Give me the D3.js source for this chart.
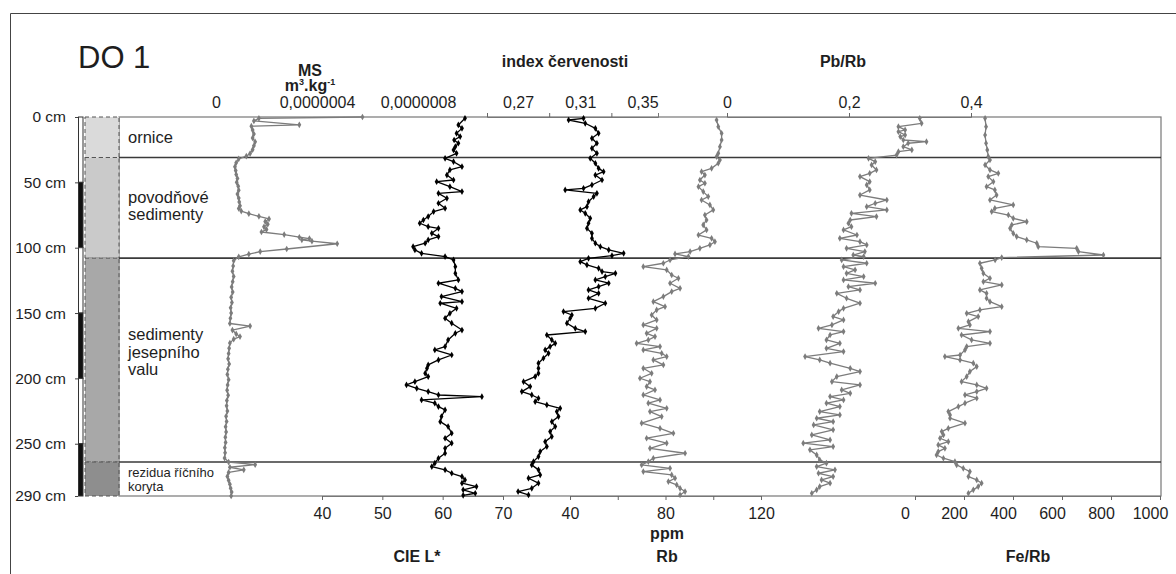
<!DOCTYPE html>
<html><head><meta charset="utf-8">
<script src="https://cdn.jsdelivr.net/npm/d3@7"></script>
<style>
body{margin:0;background:#fff}
svg{display:block}
text{font-family:"Liberation Sans",Arial,Helvetica,sans-serif;fill:#1e1e1e}
</style>
</head><body>
<svg id="c" width="1176" height="574"></svg>
<script>
// ---------------- DATA ----------------
const chartTitle = "DO 1";
const depthTicks = [0, 50, 100, 150, 200, 250, 290];
const depthBarBreaks = [0, 50, 100, 150, 200, 250, 290];

const layerNames = [["ornice"], ["povodňové", "sedimenty"], ["sedimenty", "jesepního", "valu"], ["rezidua říčního", "koryta"]];
const layerTops = [0, 31, 108, 264];
const layerBottoms = [31, 108, 264, 290];

// Magnetic susceptibility (m3/kg)
const msDepth = [0,1,3,6,7,10,13,16,19,22,25,28,30,32,35,38,41,44,47,50,53,56,59,62,65,68,70,72,74,76,78,80,82,84,86,88,90,92,93,94,95,97,101,103,105,107,110,114,118,122,126,130,134,138,142,146,150,154,158,160,163,166,168,170,173,177,181,185,189,193,197,201,205,209,213,217,221,225,229,233,237,241,245,249,253,257,261,264,266,268,270,272,275,278,281,284,287,290];
const msValue = [5.8e-7,1.7e-7,1.5e-7,3.3e-7,1.4e-7,1.45e-7,1.5e-7,1.45e-7,1.55e-7,1.5e-7,1.45e-7,1.35e-7,1.2e-7,0.9e-7,0.8e-7,0.75e-7,0.78e-7,0.8e-7,0.85e-7,0.82e-7,0.88e-7,0.9e-7,0.85e-7,0.9e-7,0.92e-7,0.95e-7,0.9e-7,1.0e-7,1.3e-7,1.7e-7,2.1e-7,1.95e-7,2.05e-7,1.9e-7,2.0e-7,1.8e-7,2.7e-7,3.3e-7,3.7e-7,3.4e-7,3.8e-7,4.8e-7,2.8e-7,1.75e-7,1.3e-7,0.9e-7,0.7e-7,0.68e-7,0.65e-7,0.7e-7,0.66e-7,0.62e-7,0.66e-7,0.6e-7,0.63e-7,0.58e-7,0.6e-7,0.57e-7,0.55e-7,1.35e-7,0.65e-7,0.8e-7,0.95e-7,0.7e-7,0.55e-7,0.52e-7,0.5e-7,0.48e-7,0.52e-7,0.47e-7,0.45e-7,0.5e-7,0.46e-7,0.44e-7,0.48e-7,0.43e-7,0.42e-7,0.45e-7,0.4e-7,0.42e-7,0.38e-7,0.4e-7,0.37e-7,0.38e-7,0.35e-7,0.36e-7,0.34e-7,0.5e-7,1.55e-7,0.55e-7,1.1e-7,0.5e-7,0.45e-7,0.5e-7,0.55e-7,0.58e-7,0.62e-7,0.6e-7];
const msTicks = [0, 4e-7, 8e-7];
const msTickLabels = ["0", "0,0000004", "0,0000008"];

// CIE L*
const lDepth = [1,6.1,8.7,12.5,15,17.6,20.1,22.7,25.2,27.8,31.6,34.2,38,40.5,44.4,48.2,49.5,53.3,57.1,58.4,62.2,66,69.9,72.4,76.2,78.8,81.3,83.9,85.2,89,91.5,94.1,96.6,99.2,101.7,104.3,106.8,109.4,114.5,119.6,124.7,127.2,131.1,133.6,137.4,141.3,142.5,146.4,150.2,154,157.8,163,165.5,170.6,175.7,178.2,182.1,185.9,189.7,192.3,196.1,198.6,202.5,205,207.6,210.1,212.7,214,216.5,219,221.6,224.1,229.2,233.1,236.9,242,245.8,249.6,253.5,257.3,261.1,264.9,267.5,270,272.6,275.1,277.7,280.2,282.8,285.3,287.9,289.5];
const lValue = [63.7,62.6,63.2,62.3,62.9,61.9,62.6,62.1,61.8,62.3,60.4,61.8,63.2,61.2,60.7,61.8,59.0,61.2,63.2,59.3,60.7,59.3,60.4,58.5,57.6,56.8,56.2,57.6,59.3,58.2,59.3,57.6,57.1,55.1,55.4,56.5,60.4,61.8,62.1,62.1,62.6,59.3,62.1,63.2,59.8,63.2,59.6,62.3,61.2,60.4,61.5,63.2,62.1,60.9,60.4,58.7,61.5,59.3,57.6,57.4,57.1,57.6,55.4,54.0,55.7,57.6,59.3,66.5,56.5,58.7,59.3,60.4,59.8,59.6,60.9,61.5,60.4,61.5,60.4,60.4,59.3,58.7,58.2,60.4,61.5,63.2,63.7,63.2,65.6,63.4,65.4,63.4];
const lTicks = [40, 50, 60, 70];

// index červenosti
const idxDepth = [1,2.3,4.8,8.7,12.5,16.3,20.1,24,27.8,31.6,35.4,39.3,41.8,44.4,48.2,52,54.6,55.8,58.4,60.9,64.8,68.6,71.1,73.7,77.5,81.3,85.2,89,92.8,96.6,99.2,101.7,104.3,106.1,108.1,110.7,113.2,115.8,118.3,119.6,122.1,124.7,127.2,129.8,132.3,134.9,138.7,142.5,146.4,148.9,151.5,154,157.8,161.7,164.2,166.8,170.6,173.2,175.7,178.2,180.8,184.6,188.4,192.3,196.1,198.6,202.5,206.3,210.1,212.7,215.2,217.8,220.3,222.9,225.4,229.2,233.1,236.9,240.7,244.5,248.4,252.2,256,259.8,263.7,266.2,270,273.9,276.4,280.2,284.1,286.6,289.2];
const idxValue = [0.3121,0.3025,0.3132,0.3197,0.3218,0.3175,0.3207,0.3175,0.3207,0.3164,0.3197,0.3218,0.3250,0.3197,0.3240,0.3175,0.3121,0.3003,0.3207,0.3186,0.3153,0.3143,0.3100,0.3132,0.3164,0.3153,0.3143,0.3175,0.3175,0.3197,0.3229,0.3283,0.3379,0.3304,0.3153,0.3100,0.3143,0.3218,0.3240,0.3326,0.3261,0.3197,0.3283,0.3218,0.3153,0.3218,0.3153,0.3261,0.3197,0.2992,0.3046,0.3035,0.3014,0.3068,0.3132,0.2885,0.2917,0.2939,0.2906,0.2874,0.2896,0.2863,0.2831,0.2831,0.2831,0.2810,0.2735,0.2778,0.2724,0.2788,0.2831,0.2810,0.2885,0.2971,0.2949,0.2960,0.2917,0.2939,0.2906,0.2917,0.2874,0.2885,0.2842,0.2831,0.2799,0.2788,0.2831,0.2842,0.2767,0.2831,0.2788,0.2700,0.2767];
const idxTickMarks = [0.25, 0.29, 0.33];
const idxLabelValues = [0.27, 0.31, 0.35];
const idxLabels = ["0,27", "0,31", "0,35"];

// Rb (ppm)
const rbDepth = [2.3,7.4,12.5,17.6,22.7,27.8,30.3,32.9,35.4,39.3,41.8,44.4,48.2,50.7,53.3,57.1,60.9,63.5,67.3,71.1,75,78.8,82.6,86.4,90.3,92.8,95.4,97.9,100.5,103,104.8,106.8,109.4,111.9,114.5,117,120.9,123.4,127.2,131.1,133.6,137.4,141.3,145.1,147.6,151.5,155.3,159.1,161.7,165.5,168,170.6,173.2,175.7,178.2,180.8,183.3,185.9,189.7,192.3,196.1,199.9,202.5,206.3,208.8,212.7,216.5,219,222.9,225.4,229.2,234.3,238.2,242,245.8,249.6,253.5,257.3,261.1,263.7,266.2,268.8,271.3,273.9,276.4,279,281.5,284.1,286.6,289.2];
const rbValue = [101.4,102.1,103.5,103.5,102.8,102.1,101.4,102.8,102.1,99.3,95.1,96.5,94.4,96.5,93.8,95.8,97.9,95.1,98.6,100.0,96.5,97.2,95.8,97.2,93.8,99.3,100.7,98.6,94.4,90.3,84.0,89.6,81.9,79.1,70.7,80.5,82.6,85.4,81.9,86.1,82.6,79.1,74.9,79.8,76.3,74.2,76.3,70.7,76.3,72.1,75.6,72.8,67.9,77.7,70.7,78.4,80.5,74.9,79.1,70.7,74.2,69.3,73.5,72.1,75.6,70.7,77.7,72.8,80.5,73.5,78.4,70.0,77.7,83.3,72.1,80.5,73.5,88.2,74.9,72.8,70.0,81.9,70.7,82.6,84.0,81.2,84.7,86.1,88.2,86.1];
const rbTicks = [40, 60, 80, 100, 120];
const rbTickLabels = ["40", "", "80", "", "120"];

// Pb/Rb
const pbDepth = [1,4.8,7.4,9.9,11.2,13.8,15,17.6,18.9,20.1,22.7,25.2,26.5,29.1,31.6,34.2,36.7,40.5,43.1,45.6,49.5,52,55.8,59.7,63.5,66,68.6,71.1,73.7,76.2,78.8,81.3,83.9,86.4,90.3,92.8,95.4,97.9,100.5,103,105.6,106.8,109.4,111.9,114.5,117,119.6,122.1,124.7,127.2,129.8,132.3,134.9,138.7,142.5,146.4,148.9,152.7,155.3,159.1,161.7,164.2,166.8,170.6,173.2,177,179.5,183.3,185.9,188.4,192.3,194.8,198.6,202.5,205,208.8,211.4,213.9,216.5,219,221.6,225.4,228,230.5,233.1,235.6,239.4,243.3,247.1,249.6,252.2,254.7,258.6,262.4,264.9,267.5,270,272.6,275.1,277.7,280.2,282.8,285.3,287.9];
const pbValue = [0.316,0.319,0.281,0.292,0.281,0.292,0.284,0.289,0.327,0.297,0.289,0.303,0.281,0.278,0.232,0.243,0.237,0.245,0.234,0.218,0.234,0.229,0.234,0.218,0.262,0.243,0.229,0.262,0.204,0.245,0.202,0.199,0.204,0.191,0.213,0.185,0.218,0.229,0.196,0.226,0.207,0.224,0.188,0.229,0.191,0.210,0.196,0.224,0.191,0.243,0.199,0.218,0.180,0.196,0.218,0.191,0.183,0.174,0.191,0.172,0.150,0.191,0.169,0.163,0.185,0.163,0.191,0.128,0.152,0.169,0.202,0.218,0.180,0.172,0.218,0.188,0.202,0.169,0.191,0.163,0.185,0.152,0.185,0.147,0.174,0.142,0.174,0.139,0.169,0.125,0.174,0.136,0.147,0.152,0.163,0.147,0.177,0.150,0.174,0.155,0.169,0.152,0.147,0.139];
const pbTicks = [0, 0.2, 0.4];
const pbTickLabels = ["0", "0,2", "0,4"];

// Fe/Rb
const feDepth = [1,7.4,13.8,20.1,25.2,30.3,32.9,36.7,40.5,43.1,45.6,49.5,53.3,55.8,59.7,63.5,67.3,69.9,72.4,75,77.5,80.1,82.6,85.2,89,91.5,94.1,96.6,99.2,100.5,103,105.6,107.6,109.4,111.9,115.8,119.6,123.4,126,128.5,132.3,134.9,138.7,141.3,145.1,147.6,150.2,152.7,156.6,159.1,161.7,164.2,166.8,170.6,173.2,175.7,178.2,182.1,183.3,185.9,188.4,191,194.8,198.6,202.5,205,207.6,210.1,212.7,215.2,219,221.6,225.4,228,230.5,234.3,238.2,240.7,243.3,245.8,248.4,250.9,253.5,256,258.6,261.1,263.7,266.2,268.8,271.3,275.1,277.7,280.2,282.8,285.3,287.9];
const feValue = [286,290,286,290,295,299,306,286,306,340,299,320,292,326,333,306,401,326,313,381,401,456,395,388,401,415,456,497,503,660,667,769,354,327,265,272,279,306,279,354,265,292,292,306,354,265,211,258,218,224,177,306,190,231,306,211,204,184,122,184,238,252,224,211,190,252,292,252,204,252,204,177,136,143,143,204,136,109,116,102,136,95,122,95,88,116,163,170,197,224,218,252,272,258,238,218];
const feTicks = [0, 200, 400, 600, 800, 1000];

// ---------------- CHART ----------------
const svg = d3.select("#c");
const TOP = 117, BOT = 496, LEFT = 119, RIGHT = 1161;
const grey = "#7c7c7c";

const y = d3.scaleLinear().domain([0, 290]).range([TOP, BOT]);
const xMS = d3.scaleLinear().domain([0, 8e-7]).range([216, 418]);
const xL = d3.scaleLinear().domain([40, 70]).range([322, 503]);
const xIdx = d3.scaleLinear().domain([0.25, 0.36]).range([487, 658]);
const xRb = d3.scaleLinear().domain([40, 120]).range([570, 761]);
const xPb = d3.scaleLinear().domain([0, 0.4]).range([727, 971]);
const xFe = d3.scaleLinear().domain([0, 1000]).range([915, 1160]);

// outer frame
svg.append("path").attr("d", "M10.5,574V13.5H1176").attr("fill", "none").attr("stroke", "#444").attr("stroke-width", 1);

// title
svg.append("text").attr("x", 78).attr("y", 68).attr("font-size", 31).text(chartTitle);

// main box
svg.append("rect").attr("x", LEFT).attr("y", TOP).attr("width", RIGHT - LEFT).attr("height", BOT - TOP)
  .attr("fill", "none").attr("stroke", "#777").attr("stroke-width", 1.2);

// lithology column
const litho = svg.append("g");
const fills = ["#dadada", "#cacaca", "#a8a8a8", "#8e8e8e"];
layerTops.forEach((t, i) => {
  litho.append("rect").attr("x", 85).attr("y", y(t)).attr("width", 34).attr("height", y(layerBottoms[i]) - y(t))
    .attr("fill", fills[i]).attr("stroke", "#555").attr("stroke-width", 1).attr("stroke-dasharray", "4,3");
});
// layer boundaries across the chart
layerBottoms.slice(0, 3).forEach(b => {
  svg.append("line").attr("x1", LEFT).attr("x2", RIGHT).attr("y1", y(b)).attr("y2", y(b))
    .attr("stroke", "#3a3a3a").attr("stroke-width", 1.6);
});
// layer labels
const labelDy = [0, -2, -8, 0];
layerNames.forEach((lines, i) => {
  const small = i === 3;
  const fs = small ? 13 : 16.5, lh = small ? 14 : 17.5;
  const mid = (y(layerTops[i]) + y(layerBottoms[i])) / 2 + labelDy[i];
  const first = mid + fs * 0.35 - (lines.length - 1) * lh / 2;
  lines.forEach((s, j) => {
    svg.append("text").attr("x", 128).attr("y", first + j * lh).attr("font-size", fs).text(s);
  });
});

// depth bar
for (let i = 0; i < depthBarBreaks.length - 1; i++) {
  svg.append("rect").attr("x", 78.5).attr("y", y(depthBarBreaks[i])).attr("width", 4.5)
    .attr("height", y(depthBarBreaks[i + 1]) - y(depthBarBreaks[i]))
    .attr("fill", i % 2 ? "#111" : "#fff").attr("stroke", "#333").attr("stroke-width", 1);
}
const dAxis = svg.append("g").attr("transform", "translate(78,0)")
  .call(d3.axisLeft(y).tickValues(depthTicks).tickSize(3).tickPadding(9).tickFormat(d => d + " cm"));
dAxis.select(".domain").remove();
dAxis.selectAll("text").attr("font-size", 15.5).attr("font-family", null).style("fill", "#1e1e1e");
dAxis.selectAll("line").attr("stroke", "#444");

function styleAxis(g, fs) {
  g.select(".domain").attr("stroke", "#777");
  g.selectAll(".tick line").attr("stroke", "#666");
  g.selectAll("text").attr("font-size", fs).attr("font-family", null).style("fill", "#1e1e1e");
}
// top axes
function topLabels(scale, vals, labels) {
  const g = svg.append("g").attr("transform", `translate(0,${TOP})`)
    .call(d3.axisTop(scale).tickValues(vals).tickSize(0).tickPadding(9).tickFormat((d, i) => labels[i]));
  g.select(".domain").remove();
  styleAxis(g, 16);
}
topLabels(xMS, msTicks, msTickLabels);
topLabels(xIdx, idxLabelValues, idxLabels);
topLabels(xPb, pbTicks, pbTickLabels);
[[xIdx, idxTickMarks], [xPb, pbTicks]].forEach(([s, v]) => {
  const g = svg.append("g").attr("transform", `translate(0,${TOP})`)
    .call(d3.axisTop(s).tickValues(v).tickSize(4).tickFormat(""));
  styleAxis(g, 16);
});

// bottom axes
function bottomAxis(scale, vals, fmt, dx) {
  const g = svg.append("g").attr("transform", `translate(0,${BOT})`)
    .call(d3.axisBottom(scale).tickValues(vals).tickSize(4).tickPadding(8).tickFormat(fmt));
  styleAxis(g, 16);
  if (dx) g.selectAll("text").attr("dx", dx);
}
bottomAxis(xL, lTicks, d => d);
bottomAxis(xRb, rbTicks, (d, i) => rbTickLabels[i]);
bottomAxis(xFe, feTicks, d => d, -10);

// axis titles
const titles = [
  ["MS", 310, 76], ["index červenosti", 565, 67], ["Pb/Rb", 843, 67],
  ["CIE L*", 417, 562], ["ppm", 667, 539], ["Rb", 667, 562], ["Fe/Rb", 1028, 562]
];
titles.forEach(([t, x, yy]) => svg.append("text").attr("x", x).attr("y", yy).attr("text-anchor", "middle")
  .attr("font-size", 16).attr("font-weight", "bold").text(t));
const unit = svg.append("text").attr("x", 310).attr("y", 91).attr("text-anchor", "middle")
  .attr("font-size", 16).attr("font-weight", "bold");
unit.append("tspan").text("m");
unit.append("tspan").attr("font-size", 9).attr("dy", -6).text("3");
unit.append("tspan").attr("dy", 6).text(".kg");
unit.append("tspan").attr("font-size", 9).attr("dy", -6).text("-1");

// series
function series(depths, values, xs, color) {
  const pts = depths.map((d, i) => [xs(values[i]), y(d)]);
  svg.append("path").attr("d", d3.line()(pts)).attr("fill", "none").attr("stroke", color)
    .attr("stroke-width", 1.3).attr("stroke-linejoin", "round");
  svg.append("g").selectAll("path").data(pts).join("path")
    .attr("transform", p => `translate(${p[0]},${p[1]})`)
    .attr("d", d3.symbol(d3.symbolDiamond, 13)).attr("fill", color);
}
series(msDepth, msValue, xMS, grey);
series(lDepth, lValue, xL, "#000");
series(idxDepth, idxValue, xIdx, "#000");
series(rbDepth, rbValue, xRb, grey);
series(pbDepth, pbValue, xPb, grey);
series(feDepth, feValue, xFe, grey);
</script>
</body></html>
